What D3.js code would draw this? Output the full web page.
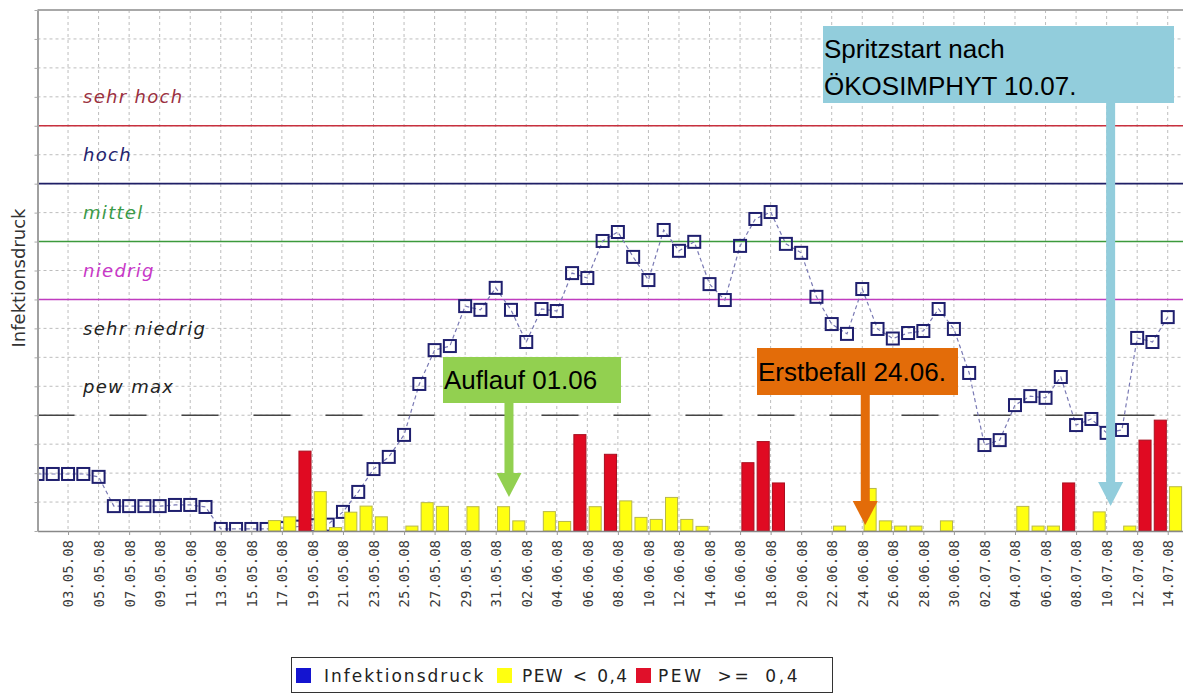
<!DOCTYPE html>
<html>
<head>
<meta charset="utf-8">
<script src="https://cdn.jsdelivr.net/npm/d3@7"></script>
<style>
  html, body { margin: 0; padding: 0; background: #fff; }
  svg { display: block; }
</style>
</head>
<body>
<svg id="chart" width="1183" height="695"></svg>
<script>
// ---------------- DATA ----------------
const startDate = new Date(2008, 4, 1);   // 01.05.08
const endDate   = new Date(2008, 6, 15);  // day after 14.07.08

// Infektionsdruck, one value per day from 01.05.08 to 14.07.08
const infektionsdruck = [
  1.97, 1.97, 1.97, 1.97, 1.87, 0.86, 0.86, 0.86, 0.86, 0.90,
  0.90, 0.83, 0.07, 0.07, 0.07, 0.07, 0.10, 0.15, 0.20, 0.22,
  0.66, 1.35, 2.14, 2.56, 3.32, 5.08, 6.25, 6.39, 7.77, 7.64,
  8.40, 7.64, 6.53, 7.67, 7.60, 8.91, 8.74, 10.02, 10.33, 9.47,
  8.67, 10.40, 9.68, 9.99, 8.53, 7.98, 9.85, 10.78, 11.02, 9.92,
  9.61, 8.09, 7.15, 6.81, 8.36, 6.98, 6.65, 6.84, 6.91, 7.67,
  6.98, 5.46, 2.97, 3.14, 4.35, 4.66, 4.60, 5.32, 3.66, 3.87,
  3.39, 3.49, 6.67, 6.53, 7.39
];

// PEW < 0,4 (yellow bars), 0 = no bar
const pewLow = [
  0, 0, 0, 0, 0, 0, 0, 0, 0, 0,
  0, 0, 0, 0, 0, 0.36, 0.49, 0, 1.36, 0.12,
  0.65, 0.86, 0.49, 0, 0.17, 0.98, 0.85, 0, 0.84, 0,
  0.84, 0.35, 0, 0.67, 0.33, 0, 0.84, 0, 1.04, 0.47,
  0.40, 1.16, 0.40, 0.16, 0, 0, 0, 0, 0, 0,
  0, 0, 0.17, 0, 1.47, 0.35, 0.17, 0.17, 0, 0.35,
  0, 0, 0, 0, 0.85, 0.17, 0.17, 0, 0, 0.66,
  0, 0.17, 0, 0, 1.53
];

// PEW >= 0,4 (red bars), 0 = no bar
const pewHigh = [
  0, 0, 0, 0, 0, 0, 0, 0, 0, 0,
  0, 0, 0, 0, 0, 0, 0, 2.76, 0, 0,
  0, 0, 0, 0, 0, 0, 0, 0, 0, 0,
  0, 0, 0, 0, 0, 3.33, 0, 2.65, 0, 0,
  0, 0, 0, 0, 0, 0, 2.36, 3.09, 1.66, 0,
  0, 0, 0, 0, 0, 0, 0, 0, 0, 0,
  0, 0, 0, 0, 0, 0, 0, 1.66, 0, 0,
  0, 0, 3.14, 3.83, 0
];

// risk level labels and threshold lines
const levelLabels = ["sehr hoch", "hoch", "mittel", "niedrig", "sehr niedrig", "pew max"];
const levelLabelValues = [15, 13, 11, 9, 7, 5];
const levelLabelColors = ["#9a3040", "#23236e", "#3a9a48", "#c838c8", "#222222", "#222222"];
const thresholdValues = [14, 12, 10, 8];
const thresholdColors = ["#c8303e", "#1f1f66", "#3c9a3c", "#c03cc0"];
const pewMaxValue = 4;

// annotations
const annotationTexts = [["Auflauf 01.06"], ["Erstbefall 24.06."], ["Spritzstart nach", "ÖKOSIMPHYT 10.07."]];
const annotationDates = [new Date(2008, 5, 1), new Date(2008, 5, 24), new Date(2008, 6, 10)];

const legendLabels = ["Infektionsdruck", "PEW < 0,4", "PEW >= 0,4"];
const yTitle = "Infektionsdruck";

// ---------------- CHART ----------------
const svg = d3.select("#chart");
const plot = { left: 37.5, right: 1183, top: 10, bottom: 531 };

const days = d3.timeDay.range(startDate, endDate);
const x = d3.scaleTime().domain([startDate, endDate]).range([plot.left, plot.right]);
const y = d3.scaleLinear().domain([0, 18]).range([plot.bottom, plot.top]);
const tickDates = days.filter((d, i) => i >= 2 && i % 2 === 0);
const fmt = d3.timeFormat("%d.%m.%y");

svg.append("defs").append("clipPath").attr("id", "plotclip")
  .append("rect").attr("x", plot.left).attr("y", plot.top)
  .attr("width", plot.right - plot.left).attr("height", plot.bottom - plot.top);

// grid
const grid = svg.append("g").attr("clip-path", "url(#plotclip)");
grid.selectAll("line.h").data(d3.range(1, 18)).join("line")
  .attr("x1", plot.left).attr("x2", plot.right)
  .attr("y1", d => y(d)).attr("y2", d => y(d))
  .attr("stroke", "#bdbdbd").attr("stroke-width", 1).attr("stroke-dasharray", "3,3");
grid.selectAll("line.v").data(tickDates).join("line")
  .attr("x1", d => x(d)).attr("x2", d => x(d))
  .attr("y1", plot.top).attr("y2", plot.bottom)
  .attr("stroke", "#bdbdbd").attr("stroke-width", 1).attr("stroke-dasharray", "3,3");

// frame
svg.append("line").attr("x1", plot.left).attr("x2", plot.right).attr("y1", plot.top).attr("y2", plot.top)
  .attr("stroke", "#a8a8a8").attr("stroke-width", 2);

// threshold lines
svg.append("g").selectAll("line").data(thresholdValues).join("line")
  .attr("x1", plot.left).attr("x2", plot.right)
  .attr("y1", d => y(d)).attr("y2", d => y(d))
  .attr("stroke", (d, i) => thresholdColors[i]).attr("stroke-width", 1.6);
svg.append("line").attr("x1", plot.left).attr("x2", plot.right)
  .attr("y1", y(pewMaxValue)).attr("y2", y(pewMaxValue))
  .attr("stroke", "#444").attr("stroke-width", 1.5).attr("stroke-dasharray", "37,35");

// level labels
svg.append("g").selectAll("text").data(levelLabels).join("text")
  .attr("x", 83).attr("y", (d, i) => y(levelLabelValues[i]))
  .attr("dy", "0.35em")
  .attr("fill", (d, i) => levelLabelColors[i])
  .style("font-family", "'DejaVu Sans', sans-serif")
  .style("font-style", "italic").style("font-size", "18px").style("letter-spacing", "1.3px")
  .text(d => d);

// Infektionsdruck line + markers
const series = svg.append("g").attr("clip-path", "url(#plotclip)");
series.append("path").datum(infektionsdruck)
  .attr("fill", "none").attr("stroke", "#7a7ab4").attr("stroke-width", 1.2).attr("stroke-dasharray", "4,3")
  .attr("d", d3.line().x((d, i) => x(days[i])).y(d => y(d)));
series.selectAll("rect.m").data(infektionsdruck).join("rect")
  .attr("x", (d, i) => x(days[i]) - 6).attr("y", d => y(d) - 6)
  .attr("width", 12).attr("height", 12)
  .attr("fill", "none").attr("stroke", "#1f1f6e").attr("stroke-width", 2);

// bars (each day spans from its date to the next)
const barG = svg.append("g").attr("clip-path", "url(#plotclip)");
function drawBars(vals, fill, stroke) {
  barG.selectAll(null).data(vals.map((v, i) => ({ v, i })).filter(d => d.v > 0)).join("rect")
    .attr("x", d => x(days[d.i]) + 1.8)
    .attr("width", d => x(d3.timeDay.offset(days[d.i], 1)) - x(days[d.i]) - 3.2)
    .attr("y", d => y(d.v)).attr("height", d => y(0) - y(d.v))
    .attr("fill", fill).attr("stroke", stroke).attr("stroke-width", 1);
}
drawBars(pewLow, "#ffff10", "#b8b84a");
drawBars(pewHigh, "#e00a22", "#a81020");

// axes
const xAxis = svg.append("g").attr("transform", `translate(0,${plot.bottom})`)
  .call(d3.axisBottom(x).tickValues(tickDates).tickFormat(fmt).tickSize(4).tickSizeOuter(0));
xAxis.select(".domain").attr("stroke", "#888").attr("stroke-width", 1.5);
xAxis.selectAll(".tick line").attr("stroke", "#999");
xAxis.selectAll("text")
  .attr("transform", "rotate(-90)").attr("x", -9).attr("y", 0).attr("dy", "0.35em")
  .style("text-anchor", "end")
  .style("font-family", "'DejaVu Sans Mono', monospace").style("font-size", "14px")
  .attr("fill", "#3a3a3a");

const yAxis = svg.append("g").attr("transform", `translate(${plot.left},0)`)
  .call(d3.axisLeft(y).ticks(18).tickFormat("").tickSize(3).tickSizeOuter(0));
yAxis.select(".domain").attr("stroke", "#a0a0a0").attr("stroke-width", 2);
yAxis.selectAll(".tick line").attr("stroke", "#aaa");

svg.append("text")
  .attr("transform", `translate(25,278) rotate(-90)`)
  .attr("text-anchor", "middle")
  .style("font-family", "'DejaVu Sans', sans-serif").style("font-size", "18px")
  .attr("fill", "#333").text(yTitle);

// annotations
const annBoxes = [
  { x: 443, y: 357, w: 178, h: 46, fill: "#92d050", dx: -2, tip: 497 },
  { x: 757, y: 348, w: 201, h: 47, fill: "#e36c09", dx: 3, tip: 525 },
  { x: 823, y: 26, w: 351, h: 77, fill: "#92cddc", dx: 4, tip: 506 }
];
annBoxes.forEach((b, k) => {
  const g = svg.append("g");
  const ax = x(annotationDates[k]) + b.dx;
  g.append("rect").attr("x", ax - 4.5).attr("y", b.y + b.h - 1).attr("width", 9)
    .attr("height", b.tip - 23 - (b.y + b.h) + 2).attr("fill", b.fill);
  g.append("path").attr("d", `M${ax - 12.5},${b.tip - 24} L${ax + 12.5},${b.tip - 24} L${ax},${b.tip} Z`)
    .attr("fill", b.fill);
  g.append("rect").attr("x", b.x).attr("y", b.y).attr("width", b.w).attr("height", b.h).attr("fill", b.fill);
  const lines = annotationTexts[k];
  lines.forEach((t, j) => {
    g.append("text").attr("x", b.x + 1)
      .attr("y", lines.length === 1 ? b.y + b.h / 2 + 9 : b.y + 32 + j * 37)
      .style("font-family", "'Liberation Sans', Arial, sans-serif").style("font-size", "26px")
      .attr("fill", "#000").text(t);
  });
});

// legend
const lg = svg.append("g");
lg.append("rect").attr("x", 291.5).attr("y", 657.5).attr("width", 541).attr("height", 35)
  .attr("fill", "#fff").attr("stroke", "#333").attr("stroke-width", 1);
const legendItems = [
  { sx: 296, tx: 324, ls: 2, ws: 0, color: "#1414d0" },
  { sx: 497, tx: 522, ls: 1.4, ws: 2, color: "#ffff10" },
  { sx: 636, tx: 658, ls: 2.6, ws: 6, color: "#e0102a" }
];
legendItems.forEach((it, k) => {
  lg.append("rect").attr("x", it.sx).attr("y", 668).attr("width", 15).attr("height", 15).attr("fill", it.color);
  lg.append("text").attr("x", it.tx).attr("y", 682)
    .style("letter-spacing", it.ls + "px").style("word-spacing", it.ws + "px")
    .style("font-family", "'DejaVu Sans', sans-serif").style("font-size", "17px")
    .attr("fill", "#222").text(legendLabels[k]);
});
</script>
</body>
</html>
